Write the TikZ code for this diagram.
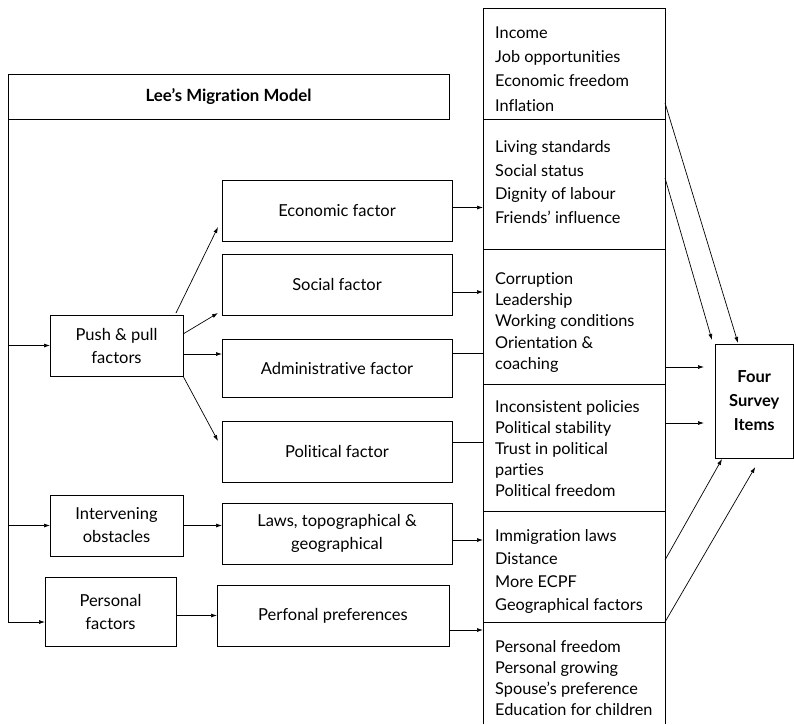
\documentclass[tikz,border=0pt]{standalone}
\usepackage{fontspec}
\setmainfont{Lato}[Ligatures=NoCommon]
\usetikzlibrary{arrows.meta,calc}
\begin{document}
\begin{tikzpicture}[x=1pt,y=-1pt,
  box/.style={draw, line width=0.8pt, inner sep=0pt, outer sep=0pt, align=center, font=\fontsize{16.5}{23}\selectfont},
  rbox/.style={draw, line width=0.8pt, inner sep=0pt, outer sep=0pt, minimum width=182pt},
  lst/.style={anchor=west, align=left, inner sep=0pt, font=\fontsize{16.3}{#1}\selectfont},
  arr/.style={-{Latex[length=6pt,width=4pt]}, line width=0.7pt},
  ln/.style={line width=0.7pt}]
\useasboundingbox (0,0) rectangle (794,724);

% title
\node[box, minimum width=441pt, minimum height=45pt, font=\bfseries\fontsize{16.8}{18}\selectfont] (title) at (228.5,96.5) {Lee’s Migration Model};

% left column
\node[box, minimum width=133pt, minimum height=61pt] (pp) at (116.5,345.5) {Push \& pull\\factors};
\node[box, minimum width=133pt, minimum height=61pt] (ob) at (116.5,525.5) {Intervening\\obstacles};
\node[box, minimum width=131pt, minimum height=69pt] (pf) at (110.5,611.5) {Personal\\factors};

% middle column
\node[box, minimum width=230pt, minimum height=61pt] (eco) at (337,210.5) {Economic factor};
\node[box, minimum width=230pt, minimum height=61pt] (soc) at (337,284.5) {Social factor};
\node[box, minimum width=230pt, minimum height=58pt] (adm) at (337,368) {Administrative factor};
\node[box, minimum width=230pt, minimum height=61pt] (pol) at (337,451.5) {Political factor};
\node[box, minimum width=230pt, minimum height=61pt] (laws) at (337,533.5) {Laws, topographical \&\\geographical};
\node[box, minimum width=232pt, minimum height=61pt] (pref) at (333,615.5) {Perfonal preferences};

% right column boxes
\node[rbox, minimum height=111pt] (r1) at (574,63.5) {};
\node[rbox, minimum height=130pt] (r2) at (574,184) {};
\node[rbox, minimum height=135pt] (r3) at (574,316.5) {};
\node[rbox, minimum height=127pt] (r4) at (574,447.5) {};
\node[rbox, minimum height=111pt] (r5) at (574,566.5) {};
\node[rbox, draw=none, minimum height=102pt] (r6) at (574,673) {};
\draw[line width=0.8pt] (r6.south west) -- (r6.north west) -- (r6.north east) -- (r6.south east);

% right column texts
\node[lst=24.3] (t1) at (495,69) {Income\\Job opportunities\\Economic freedom\\Inflation};
\node[lst=23.7] (t2) at (495,182) {Living standards\\Social status\\Dignity of labour\\Friends’ influence};
\node[lst=21.3] (t3) at (495,322.5) {Corruption\\Leadership\\Working conditions\\Orientation \&\\coaching};
\node[lst=20.8] (t4) at (495,448.5) {Inconsistent policies\\Political stability\\Trust in political\\parties\\Political freedom};
\node[lst=23.3] (t5) at (495,571.5) {Immigration laws\\Distance\\More ECPF\\Geographical factors};
\node[lst=21] (t6) at (495,678) {Personal freedom\\Personal growing\\Spouse’s preference\\Education for children};

% target box
\node[box, minimum width=78.5pt, minimum height=114pt, font=\bfseries\fontsize{16.5}{24}\selectfont] (fs) at (754.25,401) {Four\\Survey\\Items};

% left spine
\coordinate (lb) at ($(title.south west |- pf.south)+(0,-24)$);
\draw[ln] (title.south west) -- (lb);
\draw[arr] (title.south west |- pp.west) -- (pp.west);
\draw[arr] (title.south west |- ob.west) -- (ob.west);
\draw[arr] (lb) -- (lb -| pf.west);

% push & pull fan
\draw[arr] ($(pp.north east)+(-7,-2)$) -- ($(eco.south west)+(-4,-14)$);
\draw[arr] ($(pp.east)+(0,-11.5)$) -- ($(soc.south west)+(-4,-2)$);
\draw[arr] ($(pp.east)+(0,8.5)$) coordinate (a1) -- (a1 -| adm.west);
\draw[arr] (pp.south east) -- ($(pol.north west)+(-4,20)$);
\draw[arr] (ob.east) -- (ob.east -| laws.west);
\draw[arr] (pf.east |- pref.west) -- (pref.west);

% middle to right
\draw[arr] ($(eco.east)+(0,-3)$) coordinate (c1) -- (c1 -| r2.west);
\draw[arr] ($(soc.east)+(0,7.5)$) coordinate (c2) -- (c2 -| r3.west);
\draw[ln] ($(adm.east)+(0,-15)$) coordinate (c3) -- (c3 -| r3.west);
\draw[ln] ($(pol.east)+(0,-9.5)$) coordinate (c4) -- (c4 -| r4.west);
\draw[arr] ($(laws.east)+(0,6.5)$) coordinate (c5) -- (c5 -| r5.west);
\draw[arr] ($(pref.east)+(0,14.5)$) coordinate (c6) -- (c6 -| r6.west);

% right to target
\draw[arr] ($(r1.south east)+(0,-16)$) -- ($(fs.north west)+(23,-1)$);
\draw[arr] ($(r2.north east)+(0,59)$) -- ($(fs.north west)+(-3,-4)$);
\draw[arr] ($(r3.south east)+(0,-17)$) coordinate (d3) -- ($(d3 -| fs.west)+(-11,0)$);
\draw[arr] ($(r4.north east)+(0,39)$) coordinate (d4) -- ($(d4 -| fs.west)+(-11,0)$);
\draw[arr] ($(r5.north east)+(0,49)$) -- ($(fs.south west)+(7,1)$);
\draw[arr] (r6.north east) -- ($(fs.south)+(1,9)$);
\end{tikzpicture}
\end{document}
